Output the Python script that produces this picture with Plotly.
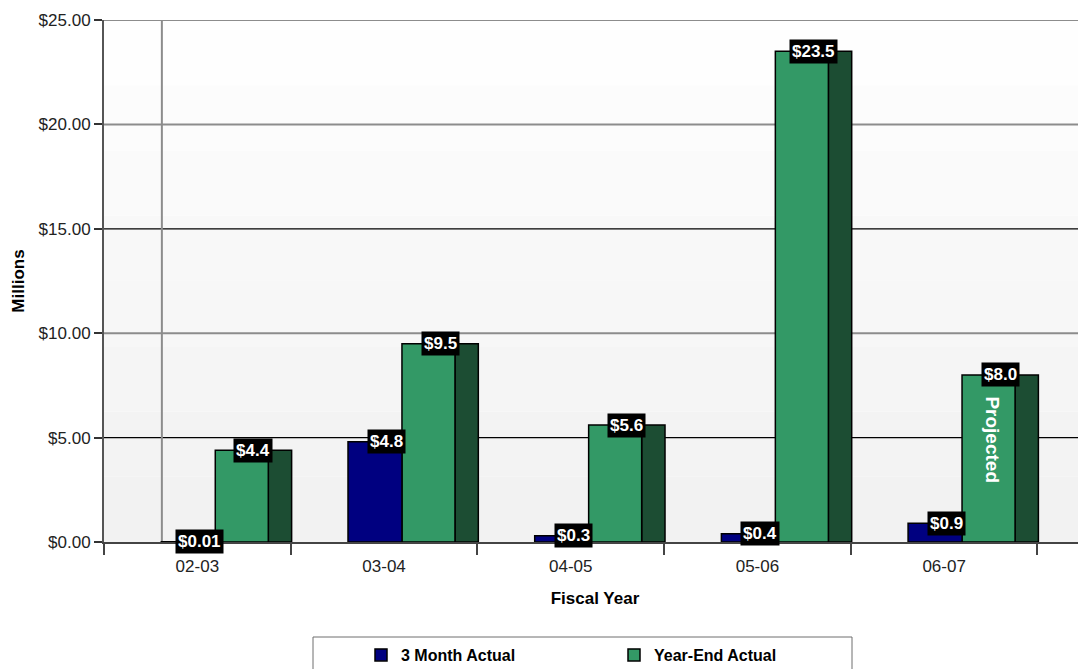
import plotly.graph_objects as go

# ---- data ----
years = ["02-03", "03-04", "04-05", "05-06", "06-07"]
three_month = [0.01, 4.8, 0.3, 0.4, 0.9]
year_end = [4.4, 9.5, 5.6, 23.5, 8.0]
three_month_labels = ["$0.01", "$4.8", "$0.3", "$0.4", "$0.9"]
year_end_labels = ["$4.4", "$9.5", "$5.6", "$23.5", "$8.0"]
y_ticks = [0, 5, 10, 15, 20, 25]
y_tick_labels = ["$0.00", "$5.00", "$10.00", "$15.00", "$20.00", "$25.00"]

FONT = "Liberation Sans Narrow, Arial Narrow, Liberation Sans, Arial, sans-serif"
NAVY = "#000080"
GREEN = "#339966"
DARK = "#1c4d33"

# bar geometry (category units)
NAVY_OFF, NAVY_W = -0.193, 0.289
GREEN_OFF, GREEN_W = 0.096, 0.284
SIDE_OFF, SIDE_W = 0.38, 0.125
X_RANGE = [-0.5, 4.76]

# page body has an 8px margin -> figure is slightly smaller
W, H = 1078, 661
L, T, B = 96, 12, 127
PW, PH = W - L, H - T - B

fig = go.Figure()

fig.add_trace(go.Bar(
    x=years, y=year_end, offset=SIDE_OFF, width=SIDE_W,
    marker=dict(color=DARK, line=dict(color="black", width=1.5)),
    showlegend=False, hoverinfo="skip"))
fig.add_trace(go.Bar(
    x=years, y=year_end, offset=GREEN_OFF, width=GREEN_W, name="Year-End Actual",
    marker=dict(color=GREEN, line=dict(color="black", width=1.5)),
    legend="legend2", hoverinfo="skip"))
fig.add_trace(go.Bar(
    x=years, y=three_month, offset=NAVY_OFF, width=NAVY_W, name="3 Month Actual",
    marker=dict(color=NAVY, line=dict(color="black", width=1.5)),
    legend="legend", hoverinfo="skip"))

# value labels (black boxes)
ann = []
for i, (v, t) in enumerate(zip(three_month, three_month_labels)):
    ann.append(dict(x=i + (NAVY_OFF + (NAVY_OFF + NAVY_W + SIDE_W)) / 2, y=v, text=t,
                    showarrow=False, bgcolor="black", borderpad=2,
                    font=dict(family=FONT, size=17, color="white", weight="bold")))
for i, (v, t) in enumerate(zip(year_end, year_end_labels)):
    ann.append(dict(x=i + (GREEN_OFF + SIDE_OFF + SIDE_W) / 2, y=v, text=t,
                    showarrow=False, bgcolor="black", borderpad=2,
                    font=dict(family=FONT, size=17, color="white", weight="bold")))
ann.append(dict(x=4 + GREEN_OFF + GREEN_W / 2 + 0.02, y=4.9, text="Projected", textangle=90,
                showarrow=False,
                font=dict(family=FONT, size=19, color="white", weight="bold")))

# background gradient bands
shapes = []
n_bands = 8
for k in range(n_bands):
    y0 = 25 * k / n_bands
    y1 = 25 * (k + 1) / n_bands
    c = int(242 + (254 - 242) * k / (n_bands - 1))
    shapes.append(dict(type="rect", xref="x", yref="y", x0=X_RANGE[0], x1=X_RANGE[1], y0=y0, y1=y1,
                       fillcolor=f"rgb({c},{c},{c})", line=dict(width=0), layer="below"))
# grid lines: grey at 10/20/25, black at 5/15
for gy in y_ticks[1:]:
    dark = gy in (5, 15)
    shapes.append(dict(type="line", xref="x", yref="y", x0=X_RANGE[0], x1=X_RANGE[1], y0=gy, y1=gy,
                       line=dict(color="black" if dark else "#8c8c8c", width=1.3 if dark else 2),
                       layer="between"))
# back wall edge
shapes.append(dict(type="line", xref="x", yref="y", x0=-0.19, x1=-0.19, y0=0, y1=25,
                   line=dict(color="#8c8c8c", width=2), layer="between"))
# legend box (page pixels converted to paper fractions)
def px_x(px):
    return (px - 8 - L) / PW
def px_y(py):
    return -(py - 8 - (T + PH)) / PH
shapes.append(dict(type="rect", xref="paper", yref="paper",
                   x0=px_x(313), x1=px_x(852), y0=px_y(675), y1=px_y(637),
                   line=dict(color="#6e6e6e", width=1), fillcolor="white", layer="below"))

fig.update_layout(
    width=W, height=H,
    margin=dict(l=L, r=0, t=T, b=B, autoexpand=False),
    paper_bgcolor="white", plot_bgcolor="white",
    barmode="overlay",
    font=dict(family=FONT, size=17, color="#222"),
    annotations=ann, shapes=shapes,
    legend=dict(x=px_x(361), y=px_y(655), xanchor="left", yanchor="middle",
                bgcolor="rgba(0,0,0,0)", borderwidth=0,
                font=dict(family=FONT, size=16, color="black", weight="bold")),
    legend2=dict(x=px_x(614), y=px_y(655), xanchor="left", yanchor="middle",
                 bgcolor="rgba(0,0,0,0)", borderwidth=0,
                 font=dict(family=FONT, size=16, color="black", weight="bold")),
)

fig.update_xaxes(
    type="category", categoryorder="array", categoryarray=years,
    range=X_RANGE, tickson="boundaries", ticks="outside", ticklen=11,
    tickcolor="#444", tickwidth=1.5, showgrid=False, ticklabelstandoff=8,
    showline=True, linecolor="#444", linewidth=2,
    tickfont=dict(family=FONT, size=17, color="#222"),
    title=dict(text="Fiscal Year", standoff=17,
               font=dict(family=FONT, size=17, color="black", weight="bold")))

fig.update_yaxes(
    range=[0, 25], tickvals=y_ticks, ticktext=y_tick_labels,
    ticks="outside", ticklen=8, tickcolor="#333", tickwidth=1.5,
    showgrid=False,
    showline=True, linecolor="#555", linewidth=2, zeroline=False,
    tickfont=dict(family=FONT, size=17, color="#222"),
    title=dict(text="Millions", standoff=10,
               font=dict(family=FONT, size=17, color="black", weight="bold")))

fig.write_html("out.html")
